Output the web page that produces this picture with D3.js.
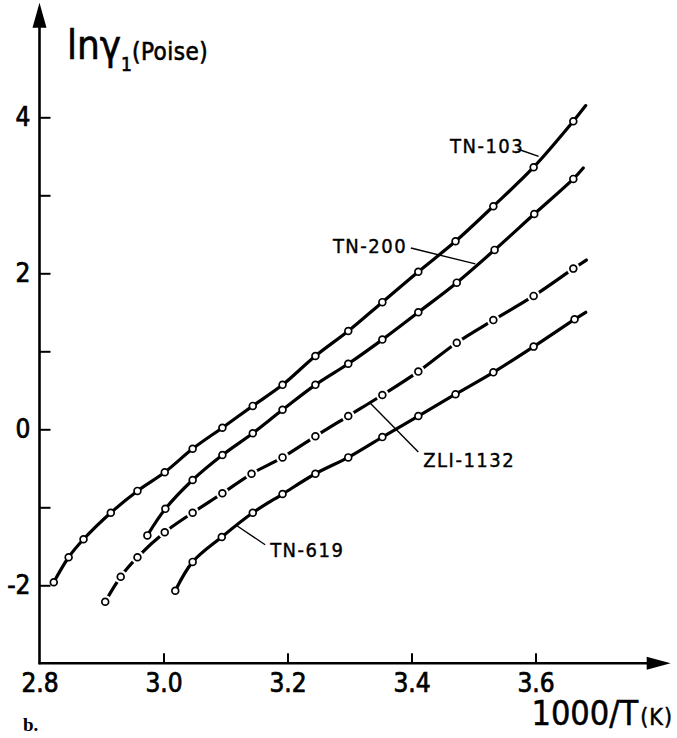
<!DOCTYPE html>
<html>
<head>
<meta charset="utf-8">
<script src="https://cdn.jsdelivr.net/npm/d3@7"></script>
<style>
  body { margin: 0; background: #fff; }
  text { font-family: "Liberation Sans Narrow", "DejaVu Sans Condensed", "Arial Narrow", sans-serif; fill: #000; }
</style>
</head>
<body>
<script>
// ln(gamma1) vs 1000/T for four liquid crystal mixtures

// data
var tn103X = [2.823, 2.847, 2.871, 2.915, 2.958, 3.002, 3.047, 3.095, 3.144, 3.192, 3.245, 3.298, 3.353, 3.411, 3.471, 3.532, 3.597, 3.661];
var tn103Y = [-1.96, -1.64, -1.41, -1.07, -0.79, -0.55, -0.25, 0.02, 0.30, 0.57, 0.94, 1.26, 1.63, 2.02, 2.41, 2.86, 3.36, 3.95];

var tn200X = [2.974, 3.003, 3.047, 3.095, 3.144, 3.192, 3.245, 3.298, 3.353, 3.411, 3.473, 3.534, 3.598, 3.661];
var tn200Y = [-1.36, -1.02, -0.65, -0.33, -0.05, 0.25, 0.57, 0.84, 1.15, 1.50, 1.88, 2.30, 2.76, 3.21];

var zliX = [2.906, 2.931, 2.958, 3.002, 3.047, 3.095, 3.142, 3.192, 3.245, 3.298, 3.353, 3.411, 3.473, 3.532, 3.597, 3.661];
var zliY = [-2.21, -1.89, -1.64, -1.32, -1.07, -0.82, -0.57, -0.36, -0.09, 0.17, 0.44, 0.74, 1.11, 1.40, 1.71, 2.06];

var tn619X = [3.019, 3.047, 3.094, 3.144, 3.192, 3.245, 3.298, 3.353, 3.411, 3.471, 3.532, 3.597, 3.663];
var tn619Y = [-2.07, -1.70, -1.38, -1.07, -0.83, -0.57, -0.36, -0.10, 0.17, 0.45, 0.73, 1.06, 1.41];

// each drawn curve runs a little past its last measured point
var endX = [3.681, 3.677, 3.682, 3.681];
var endY = [4.15, 3.35, 2.17, 1.50];

var names = ["TN-103", "TN-200", "ZLI-1132", "TN-619"];

var xTicks = [2.8, 3.0, 3.2, 3.4, 3.6];
var yTicks = [-2, -1, 0, 1, 2, 3, 4];

window.onload = function(){

  var w = 677, h = 738;

  var svg = d3.select("body")
    .append("svg")
    .attr("width", w)
    .attr("height", h);

  // scales, calibrated against the tick marks
  var x = d3.scaleLinear().domain([2.8, 3.6]).range([39.5, 535.5]);
  var y = d3.scaleLinear().domain([-3, 4]).range([663.3, 117.3]);

  // axis lines with arrow heads
  var x0 = x(2.8), y0 = y(-3);
  var xTip = x(3.818), yTip = y(5.47);

  svg.append("line")
    .attr("x1", x0).attr("y1", y0 + 1)
    .attr("x2", x0).attr("y2", yTip + 10)
    .attr("stroke", "#000").attr("stroke-width", 2.6);
  svg.append("line")
    .attr("x1", x0 - 1).attr("y1", y0)
    .attr("x2", xTip - 10).attr("y2", y0)
    .attr("stroke", "#000").attr("stroke-width", 2.6);

  svg.append("path")
    .attr("d", "M" + x0 + "," + yTip + "L" + (x0 - 7) + "," + (yTip + 25) + "L" + (x0 + 7) + "," + (yTip + 25) + "Z")
    .attr("fill", "#000");
  svg.append("path")
    .attr("d", "M" + xTip + "," + y0 + "L" + (xTip - 24) + "," + (y0 - 6.5) + "L" + (xTip - 24) + "," + (y0 + 6.5) + "Z")
    .attr("fill", "#000");

  // y axis: ticks point inward, only even values labelled
  var yAxis = svg.append("g")
    .attr("transform", "translate(" + x0 + ",0)")
    .call(d3.axisLeft(y)
      .tickValues(yTicks)
      .tickSizeInner(-11)
      .tickSizeOuter(0)
      .tickPadding(9)
      .tickFormat(function(d){ return d % 2 === 0 ? String(d) : ""; }));
  yAxis.select(".domain").remove();
  yAxis.selectAll(".tick line").attr("stroke", "#000").attr("stroke-width", 2);
  yAxis.selectAll(".tick text")
    .attr("font-size", 26)
    .attr("fill", "#000")
    .attr("stroke", "#000")
    .attr("stroke-width", 0.7);

  // x axis
  var xAxis = svg.append("g")
    .attr("transform", "translate(0," + y0 + ")")
    .call(d3.axisBottom(x)
      .tickValues(xTicks)
      .tickSizeInner(-10)
      .tickSizeOuter(0)
      .tickPadding(10)
      .tickFormat(d3.format(".1f")));
  xAxis.select(".domain").remove();
  xAxis.selectAll(".tick line").attr("stroke", "#000").attr("stroke-width", 2)
    .attr("display", function(d){ return d === 2.8 ? "none" : null; });
  xAxis.selectAll(".tick text")
    .attr("font-size", 26)
    .attr("fill", "#000")
    .attr("stroke", "#000")
    .attr("stroke-width", 0.7);
  // let the stylesheet font apply instead of the axis default
  svg.selectAll("g").attr("font-family", null);

  // series
  var series = [
    {xs: tn103X, ys: tn103Y, gap: false},
    {xs: tn200X, ys: tn200Y, gap: false},
    {xs: zliX,   ys: zliY,   gap: true},
    {xs: tn619X, ys: tn619Y, gap: false}
  ];

  var line = d3.line()
    .x(function(d){ return x(d[0]); })
    .y(function(d){ return y(d[1]); })
    .curve(d3.curveCatmullRom.alpha(0.5));

  series.forEach(function(s, i){
    var pts = s.xs.map(function(v, j){ return [v, s.ys[j]]; });
    var full = pts.concat([[endX[i], endY[i]]]);

    svg.append("path")
      .datum(full)
      .attr("d", line)
      .attr("fill", "none")
      .attr("stroke", "#000")
      .attr("stroke-width", 3.2)
      .attr("stroke-linecap", "round");

    // broken line round the points of the dashed-looking curve
    if (s.gap) {
      svg.selectAll(null)
        .data(pts)
        .enter().append("circle")
        .attr("cx", function(d){ return x(d[0]); })
        .attr("cy", function(d){ return y(d[1]); })
        .attr("r", 6.5)
        .attr("fill", "#fff");
    }

    svg.selectAll(null)
      .data(pts)
      .enter().append("circle")
      .attr("cx", function(d){ return x(d[0]); })
      .attr("cy", function(d){ return y(d[1]); })
      .attr("r", 3.4)
      .attr("fill", "#fff")
      .attr("stroke", "#000")
      .attr("stroke-width", 1.7);
  });

  // curve labels with leader lines, placed in data units
  var labels = [
    {name: names[0], tx: 3.462, ty: 3.54, anchor: "start", l: [[3.571, 3.594], [3.605, 3.50]]},
    {name: names[1], tx: 3.393, ty: 2.26, anchor: "end",   l: [[3.399, 2.324], [3.503, 2.12]]},
    {name: names[2], tx: 3.419, ty: -0.48, anchor: "start", l: [[3.411, -0.29], [3.334, 0.33]]},
    {name: names[3], tx: 3.172, ty: -1.64, anchor: "start", l: [[3.164, -1.48], [3.119, -1.24]]}
  ];

  labels.forEach(function(lb){
    svg.append("line")
      .attr("x1", x(lb.l[0][0])).attr("y1", y(lb.l[0][1]))
      .attr("x2", x(lb.l[1][0])).attr("y2", y(lb.l[1][1]))
      .attr("stroke", "#000")
      .attr("stroke-width", 1.4);
    svg.append("text")
      .attr("x", x(lb.tx))
      .attr("y", y(lb.ty))
      .attr("text-anchor", lb.anchor)
      .attr("font-size", 20)
      .attr("letter-spacing", 1.5)
      .attr("stroke", "#000")
      .attr("stroke-width", 0.4)
      .text(lb.name);
  });

  // axis titles
  var yTitle = svg.append("text")
    .attr("x", 67)
    .attr("y", 59)
    .attr("stroke", "#000")
    .attr("stroke-width", 0.6);
  yTitle.append("tspan").attr("font-size", 40).text("lnγ");
  yTitle.append("tspan").attr("font-size", 19).attr("dy", 12).text("1");
  yTitle.append("tspan").attr("font-size", 24).attr("dy", -11).attr("letter-spacing", 0.5).text("(Poise)");

  var xTitle = svg.append("text")
    .attr("x", 673)
    .attr("y", 725)
    .attr("text-anchor", "end")
    .attr("stroke", "#000")
    .attr("stroke-width", 0.5);
  xTitle.append("tspan").attr("font-size", 34).text("1000/T");
  xTitle.append("tspan").attr("font-size", 23).attr("dx", 2).attr("letter-spacing", 1).text("(K)");

  svg.append("text")
    .attr("x", 23)
    .attr("y", 731)
    .attr("font-size", 19)
    .attr("font-weight", "bold")
    .style("font-family", "'Liberation Serif', 'DejaVu Serif', serif")
    .text("b.");
};
</script>
</body>
</html>
